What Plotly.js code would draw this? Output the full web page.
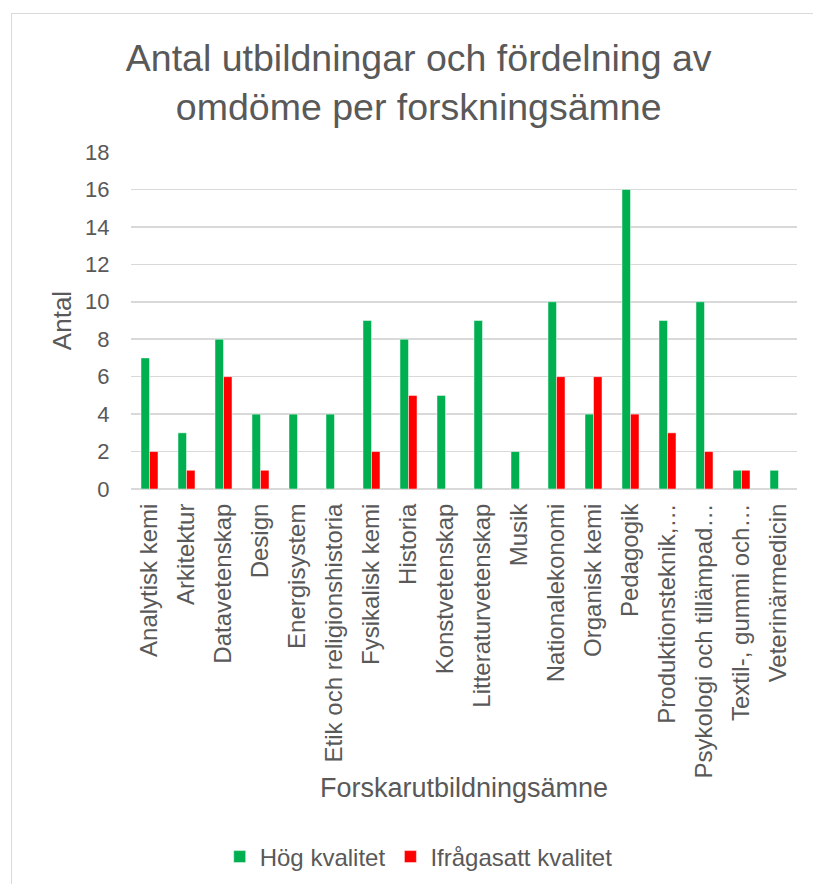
<!DOCTYPE html>
<html>
<head>
<meta charset="utf-8">
<script src="https://cdn.plot.ly/plotly-3.0.1.min.js"></script>
<style>
  html, body { margin: 0; padding: 0; background: #ffffff; }
  #frame { position: absolute; left: 11px; top: 13px; width: 900px; height: 900px;
           border-left: 1.5px solid #d9d9d9; border-top: 1.5px solid #d9d9d9; }
  #chart { position: absolute; left: 0; top: 0; width: 813px; height: 884px; }
</style>
</head>
<body>
<div id="frame"></div>
<div id="chart"></div>
<script>
const categories = [
  "Analytisk kemi", "Arkitektur", "Datavetenskap", "Design", "Energisystem",
  "Etik och religionshistoria", "Fysikalisk kemi", "Historia", "Konstvetenskap",
  "Litteraturvetenskap", "Musik", "Nationalekonomi", "Organisk kemi", "Pedagogik",
  "Produktionsteknik,…", "Psykologi och tillämpad…", "Textil-, gummi och…", "Veterinärmedicin"
];
const hogKvalitet = [7, 3, 8, 4, 4, 4, 9, 8, 5, 9, 2, 10, 4, 16, 9, 10, 1, 1];
const ifragasattKvalitet = [2, 1, 6, 1, null, null, 2, 5, null, null, null, 6, 6, 4, 3, 2, 1, null];
const seriesNames = ["Hög kvalitet", "Ifrågasatt kvalitet"];
const yTicks = [0, 2, 4, 6, 8, 10, 12, 14, 16, 18];

const textColor = "#595959";
const font = "Arial, 'Liberation Sans', sans-serif";

const traces = [
  { type: "bar", name: seriesNames[0], x: categories, y: hogKvalitet,
    marker: { color: "#00B050", line: { color: "rgba(255,255,255,0.6)", width: 0.8 } } },
  { type: "bar", name: seriesNames[1], x: categories, y: ifragasattKvalitet,
    marker: { color: "#FF0000", line: { color: "rgba(255,255,255,0.6)", width: 0.8 } } }
];

const layout = {
  width: 813, height: 884,
  paper_bgcolor: "rgba(0,0,0,0)", plot_bgcolor: "rgba(0,0,0,0)",
  margin: { l: 131, r: 16, t: 152, b: 395 },
  font: { family: font, color: textColor, size: 23 },
  title: {
    text: "Antal utbildningar och fördelning av<br>omdöme per forskningsämne",
    font: { family: font, size: 37.5, color: textColor },
    xref: "container", x: 0.515, xanchor: "center",
    yref: "container", y: 1 - 71 / 884, yanchor: "middle"
  },
  barmode: "group",
  bargap: 0.54, bargroupgap: 0,
  xaxis: {
    type: "category",
    tickangle: -90,
    tickfont: { family: font, size: 24, color: textColor },
    showgrid: false, showline: false, zeroline: false,
    ticks: "outside", ticklen: 4, tickcolor: "rgba(0,0,0,0)",
    title: { text: "Forskarutbildningsämne", font: { family: font, size: 27, color: textColor }, standoff: 0 }
  },
  yaxis: {
    range: [0, 18],
    tickvals: yTicks,
    tickfont: { family: font, size: 22, color: textColor },
    showgrid: true, gridcolor: "#d9d9d9", gridwidth: 1.5,
    zeroline: true, zerolinecolor: "#d9d9d9", zerolinewidth: 1.5,
    showline: false,
    ticks: "outside", ticklen: 16, tickcolor: "rgba(0,0,0,0)",
    title: { text: "Antal", font: { family: font, size: 26, color: textColor }, standoff: 6 }
  },
  legend: {
    orientation: "h",
    xref: "container", x: 0.515, xanchor: "center",
    yref: "container", y: 1 - 857 / 884, yanchor: "middle",
    font: { family: font, size: 24, color: textColor },
    itemwidth: 30,
    itemclick: false
  },
  showlegend: true
};

Plotly.newPlot("chart", traces, layout, { displayModeBar: false, staticPlot: true });
</script>
</body>
</html>
